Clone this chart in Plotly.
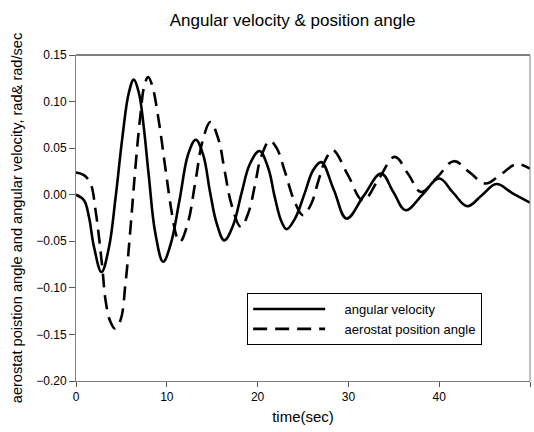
import plotly.graph_objects as go

# Angular velocity (rad/sec) against time (sec)
t_omega = [0, 0.88, 1.43, 1.98, 2.81, 3.62, 4.36, 5.09, 5.82, 6.37, 6.92, 7.4, 8.02,
           8.75, 9.6, 10.4, 11.4, 12.37, 13.19, 14.0, 14.76, 15.5, 16.33, 17.3, 18.24,
           19.15, 20.2, 21.16, 21.9, 22.64, 23.2, 24.1, 25.2, 26.1, 27.0, 28.4, 29.8,
           31.7, 33.6, 34.95, 36.3, 38.15, 40.0, 41.55, 43.1, 44.7, 46.3, 48.0, 50]
omega = [0.0, -0.006, -0.024, -0.056, -0.083, -0.057, -0.003, 0.060, 0.1095, 0.1236,
         0.1095, 0.078, 0.020, -0.042, -0.072, -0.054, -0.006, 0.044, 0.059, 0.043,
         0.003, -0.031, -0.049, -0.033, 0.002, 0.033, 0.047, 0.029, -0.003, -0.029,
         -0.037, -0.026, 0.002, 0.026, 0.035, 0.005, -0.0256, -0.001, 0.0227, 0.003,
         -0.0166, 0.0, 0.0174, 0.002, -0.0123, -0.0005, 0.0115, 0.002, -0.0085]

# Aerostat position angle (rad) against time (sec)
t_theta = [0, 0.88, 1.6, 2.15, 2.89, 3.25, 3.73, 4.28, 4.9, 5.45, 6.0, 6.55, 7.1, 7.54,
           7.95, 8.38, 9.12, 9.85, 10.58, 11.13, 11.46, 12.3, 13.15, 13.95, 14.8, 15.67,
           16.4, 17.14, 18.15, 19.0, 19.7, 20.4, 21.35, 22.1, 23.0, 24.1, 25.0, 25.9,
           26.7, 27.5, 28.3, 29.95, 31.6, 33.35, 35.1, 36.6, 38.0, 39.8, 41.6, 43.35,
           45.1, 46.8, 48.5, 50]
theta = [0.0238, 0.021, 0.012, -0.0166, -0.0775, -0.113, -0.1347, -0.1436, -0.1347,
         -0.095, -0.036, 0.030, 0.086, 0.1175, 0.1264, 0.1175, 0.079, 0.028,
         -0.021, -0.046, -0.0506, -0.031, 0.014, 0.058, 0.078, 0.060, 0.024, -0.011,
         -0.0345, -0.019, 0.010, 0.041, 0.0578, 0.050, 0.025, -0.008, -0.022, -0.010,
         0.015, 0.038, 0.0477, 0.021, -0.006, 0.017, 0.0406, 0.022, 0.003, 0.019,
         0.036, 0.024, 0.012, 0.022, 0.0327, 0.028]

x_ticks = [0, 10, 20, 30, 40, 50]
y_ticks = [-0.20, -0.15, -0.10, -0.05, 0.00, 0.05, 0.10, 0.15]

NBSP = "\u00a0" * 4

fig = go.Figure()
fig.add_trace(go.Scatter(
    x=t_omega, y=omega, mode="lines", name=NBSP + "angular velocity",
    line=dict(color="black", width=2.6, shape="spline", smoothing=1.1),
))
fig.add_trace(go.Scatter(
    x=t_theta, y=theta, mode="lines", name=NBSP + "aerostat position angle",
    line=dict(color="black", width=2.6, shape="spline", smoothing=1.1, dash="14px,8px"),
))

font_family = "Liberation Sans, Arial, sans-serif"

fig.update_layout(
    width=534, height=432,
    margin=dict(l=76, r=4, t=55, b=51),
    paper_bgcolor="white", plot_bgcolor="white",
    font=dict(family=font_family, color="black", size=12),
    title=dict(text="Angular velocity & position angle", x=0.548, xanchor="center",
               y=0.953, yanchor="middle", font=dict(size=17, family=font_family)),
    showlegend=True,
    legend=dict(x=0.377, y=0.27, xanchor="left", yanchor="top",
                bgcolor="white", bordercolor="black", borderwidth=1,
                font=dict(size=13, family=font_family), itemwidth=72,
                tracegroupgap=0),
)

fig.update_xaxes(
    range=[0, 50], tickvals=x_ticks, ticktext=[str(v) for v in x_ticks],
    showgrid=False, zeroline=False, showline=True, linecolor="#808080", linewidth=1,
    ticks="outside", ticklen=5, tickcolor="#555555", tickfont=dict(size=12),
    title=dict(text="time(sec)", font=dict(size=15), standoff=8),
)
fig.update_yaxes(
    range=[-0.20, 0.15], tickvals=y_ticks, tickformat=".2f",
    showgrid=False, zeroline=False, showline=True, linecolor="#808080", linewidth=1,
    ticks="outside", ticklen=6, tickcolor="#555555", tickfont=dict(size=12),
    title=dict(text="aerostat poistion angle and angular velocity, rad& rad/sec",
               font=dict(size=14.6), standoff=10),
)

# Frame: dark top edge, grey right edge
fig.add_shape(type="line", xref="paper", yref="paper", x0=0, x1=1, y0=1, y1=1,
              line=dict(color="black", width=1))
fig.add_shape(type="line", xref="paper", yref="paper", x0=1, x1=1, y0=0, y1=1,
              line=dict(color="#808080", width=1))

fig.write_html("out.html")
